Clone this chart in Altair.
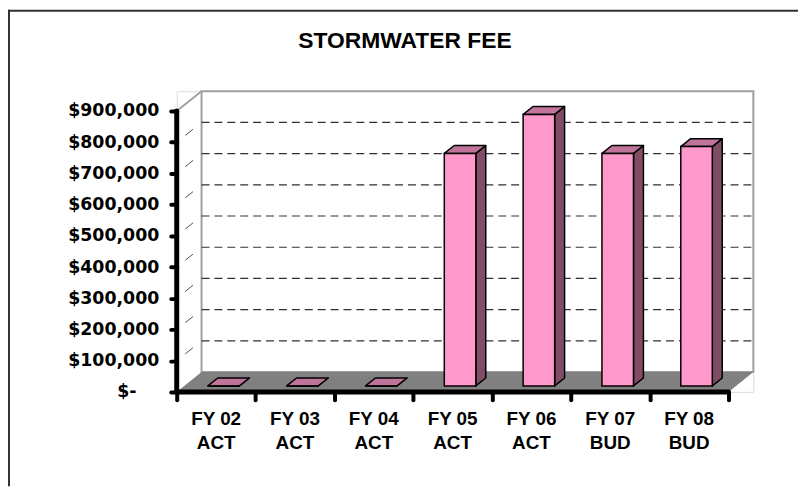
import altair as alt
import pandas as pd

# ---------------- data ----------------
title_text = "STORMWATER FEE"
fy_labels = ["FY 02", "FY 03", "FY 04", "FY 05", "FY 06", "FY 07", "FY 08"]
kind_labels = ["ACT", "ACT", "ACT", "ACT", "ACT", "BUD", "BUD"]
fees = [0, 0, 0, 745000, 870000, 745000, 767000]
y_ticks = [0, 100000, 200000, 300000, 400000, 500000, 600000, 700000, 800000, 900000]

# ---------------- geometry / style ----------------
DX = 0.315      # 3-D depth offset, category units
DY = 63600      # 3-D depth offset, dollars
BAR_HALF = 0.2
F0, F1 = 0.3, 0.7
W, H = 581, 303
n = len(fees)
ymax = max(y_ticks)
PINK, SIDE, TOP = "#FF99CC", "#804C66", "#C0739B"

xscale = alt.Scale(domain=[0, n + DX], nice=False, zero=False)
yscale = alt.Scale(domain=[0, ymax + DY], nice=False, zero=False)
xaxis = alt.Axis(values=list(range(n + 1)), labels=False, domain=False, grid=False,
                 tickSize=8, tickWidth=4, tickColor="black", tickCap="round", title=None)
yaxis = alt.Axis(values=y_ticks, domain=False, grid=False, tickSize=6, tickWidth=4,
                 tickColor="black", tickCap="round",
                 labelPadding={"condition": {"test": "datum.value == 0", "value": 35}, "value": 12},
                 labelExpr="datum.value == 0 ? '$-' : format(datum.value, '$,.0f')",
                 labelFont="DejaVu Sans", labelFontWeight="bold", labelFontSize=17.5,
                 labelColor="black", title=None)


def X(f):
    return alt.X(f, type="quantitative", scale=xscale, axis=xaxis)


def Y(f):
    return alt.Y(f, type="quantitative", scale=yscale, axis=yaxis, stack=None)


# ---------------- derived tables ----------------
d, D = (F1 - F0) * DX, (F1 - F0) * DY
fronts, sides, tops = [], [], []
for i, v in enumerate(fees):
    xl = i + 0.5 - BAR_HALF + F0 * DX
    xr = i + 0.5 + BAR_HALF + F0 * DX
    yb = F0 * DY
    yt = v + F0 * DY
    fronts.append({"bar": i, "xl": xl, "xr": xr, "yb": yb, "yt": yt})
    sides += [{"bar": i, "px": xr, "lo": yb, "hi": yt},
              {"bar": i, "px": xr + d, "lo": yb + D, "hi": yt + D}]
    tops += [{"bar": i, "px": xl, "lo": yt, "hi": yt},
             {"bar": i, "px": xl + d, "lo": yt, "hi": yt + D},
             {"bar": i, "px": xr, "lo": yt, "hi": yt + D},
             {"bar": i, "px": xr + d, "lo": yt + D, "hi": yt + D}]
fronts, sides, tops = pd.DataFrame(fronts), pd.DataFrame(sides), pd.DataFrame(tops)

floor = pd.DataFrame({"px": [0, DX, n, n + DX],
                      "lo": [0, 0, 0, DY], "hi": [0, DY, DY, DY]})
wall = pd.DataFrame({"x": [DX], "x2": [n + DX], "y": [DY], "y2": [ymax + DY]})
inner = [v for v in y_ticks if 0 < v < ymax]
wall_grid = pd.DataFrame({"x": [DX] * len(inner), "x2": [n + DX] * len(inner),
                          "y": [v + DY for v in inner]})
diag = pd.DataFrame([{"lvl": v, "pt": p, "x": p * DX, "y": v + p * DY}
                     for v in inner for p in (0, 1)])
diag_top = pd.DataFrame({"pt": [0, 1], "x": [0, DX], "y": [ymax, ymax + DY]})
yline = pd.DataFrame({"x": [0], "y": [0], "y2": [ymax]})
xline = pd.DataFrame({"x": [0], "x2": [n], "y": [0]})
labels = pd.DataFrame({"c": [i + 0.5 for i in range(n)], "fy": fy_labels, "kind": kind_labels})
one = pd.DataFrame({"t": [title_text]})

# ---------------- layers ----------------
frame_left = alt.Chart(one).mark_rule(color="#333333", strokeWidth=2).encode(
    x=alt.value(-169), y=alt.value(-82), y2=alt.value(398))
frame_top = alt.Chart(one).mark_rule(color="#333333", strokeWidth=2).encode(
    x=alt.value(-170), x2=alt.value(626), y=alt.value(-81))

wall_l = alt.Chart(wall).mark_rect(fill="white", stroke="#A0A0A0", strokeWidth=2).encode(
    x=X("x"), x2="x2", y=Y("y"), y2="y2")
grid_l = alt.Chart(wall_grid).mark_rule(color="#303030", strokeWidth=1.2, strokeDash=[8, 5]).encode(
    x=X("x"), x2="x2", y=Y("y"))
diag_l = alt.Chart(diag).mark_line(color="#505050", strokeWidth=1, strokeDash=[10, 12],
                                   strokeDashOffset=11).encode(
    x=X("x"), y=Y("y"), detail="lvl:N", order="pt:O")
diag_top_l = alt.Chart(diag_top).mark_line(color="#A0A0A0", strokeWidth=2).encode(
    x=X("x"), y=Y("y"), order="pt:O")
floor_l = alt.Chart(floor).mark_area(color="#808080", opacity=1, orient="vertical").encode(
    x=X("px:Q"), y=Y("lo:Q"), y2=alt.Y2("hi:Q"))

side_l = alt.Chart(sides).mark_area(fill=SIDE, stroke="black", strokeWidth=1.5, opacity=1,
                                    strokeJoin="round", orient="vertical").encode(
    x=X("px:Q"), y=Y("lo:Q"), y2=alt.Y2("hi:Q"), detail="bar:N")
top_l = alt.Chart(tops).mark_area(fill=TOP, stroke="black", strokeWidth=1.5, opacity=1,
                                  strokeJoin="round", orient="vertical").encode(
    x=X("px:Q"), y=Y("lo:Q"), y2=alt.Y2("hi:Q"), detail="bar:N")
front_l = alt.Chart(fronts).mark_rect(fill=PINK, stroke="black", strokeWidth=1.5).encode(
    x=X("xl"), x2="xr", y=Y("yb"), y2="yt")

yline_l = alt.Chart(yline).mark_rule(color="black", strokeWidth=5, strokeCap="round").encode(
    x=X("x"), y=Y("y"), y2="y2")
xline_l = alt.Chart(xline).mark_rule(color="black", strokeWidth=5, strokeCap="round").encode(
    x=X("x"), x2="x2", y=Y("y"))

txt = dict(font="Liberation Sans", fontWeight="bold", fontSize=19, color="black",
           align="center", baseline="alphabetic")
fy_l = alt.Chart(labels).mark_text(**txt).encode(x=X("c"), y=alt.value(336), text="fy:N")
kind_l = alt.Chart(labels).mark_text(**txt).encode(x=X("c"), y=alt.value(360.7), text="kind:N")
title_l = alt.Chart(one).mark_text(font="Liberation Sans", fontWeight="bold", fontSize=23,
                                   color="black", align="center", baseline="alphabetic").encode(
    x=alt.value(230), y=alt.value(-44), text="t:N")

chart = alt.layer(
    frame_left, frame_top, wall_l, grid_l, diag_l, diag_top_l, floor_l,
    side_l, top_l, front_l, yline_l, xline_l, fy_l, kind_l, title_l
).properties(
    width=W, height=H,
    autosize=alt.AutoSizeParams(type="none"),
    padding={"left": 170, "top": 82, "right": 45, "bottom": 95},
).configure_view(stroke=None).configure(background="white")

chart.save("out.html", embed_options={"renderer": "svg", "actions": False})
